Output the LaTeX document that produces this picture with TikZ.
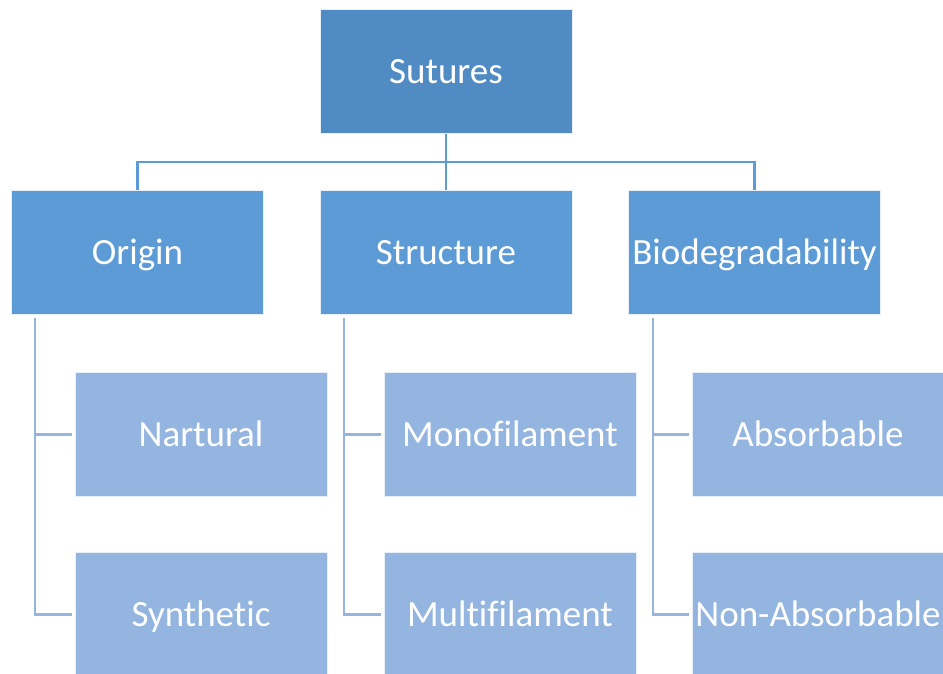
\documentclass[tikz,border=0pt]{standalone}
\usepackage{fontspec}
\setmainfont[Ligatures=NoCommon]{Carlito}
\definecolor{cTop}{HTML}{508CC3}
\definecolor{cMid}{HTML}{5C9BD5}
\definecolor{cLow}{HTML}{93B5DF}
\definecolor{cLineA}{HTML}{5C9BD5}
\definecolor{cLineB}{HTML}{95B5DE}
\tikzset{
  boxbase/.style={draw=white!85!cMid, line width=0.8pt, text=white, inner sep=0pt,
    minimum width=252pt, minimum height=124pt, text height=30pt, text depth=6.2pt,
    font=\fontsize{37}{40}\selectfont},
  topbox/.style={boxbase, fill=cTop},
  midbox/.style={boxbase, fill=cMid},
  lowbox/.style={boxbase, fill=cLow},
  linkA/.style={draw=cLineA, line width=2.2pt},
  linkB/.style={draw=cLineB, line width=2.2pt},
}
\begin{document}
\begin{tikzpicture}[x=1pt,y=-1pt]
\useasboundingbox (0,0) rectangle (943,674);
\node[topbox] (sut) at (446,71.5) {Sutures};
\node[midbox] (ori) at (137.5,252.5) {Origin};
\node[midbox] (str) at (446,252.5) {Structure};
\node[midbox] (bio) at (754.5,252.5) {Biodegradability};
\node[lowbox] (nat) at (201,434.5) {Nartural};
\node[lowbox] (syn) at (201,614.5) {Synthetic};
\node[lowbox] (mon) at (510,434.5) {Monofilament};
\node[lowbox] (mul) at (510,614.5) {Multifilament};
\node[lowbox] (abs) at (818,434.5) {Absorbable};
\node[lowbox] (non) at (818,614.5) {Non-Absorbable};
\coordinate (hub) at (446,162);
\draw[linkA] (sut.south) -- (str.north);
\draw[linkA] (ori.north) |- (hub) -| (bio.north);
\foreach \p/\a/\b/\xx in {ori/nat/syn/35, str/mon/mul/344, bio/abs/non/653}{
  \draw[linkB] ([yshift=-3pt]\p.south -| \xx,0) |- ([xshift=-3pt]\b.west);
  \draw[linkB] (\a.west -| \xx,0) -- ([xshift=-3pt]\a.west);
}
\end{tikzpicture}
\end{document}
